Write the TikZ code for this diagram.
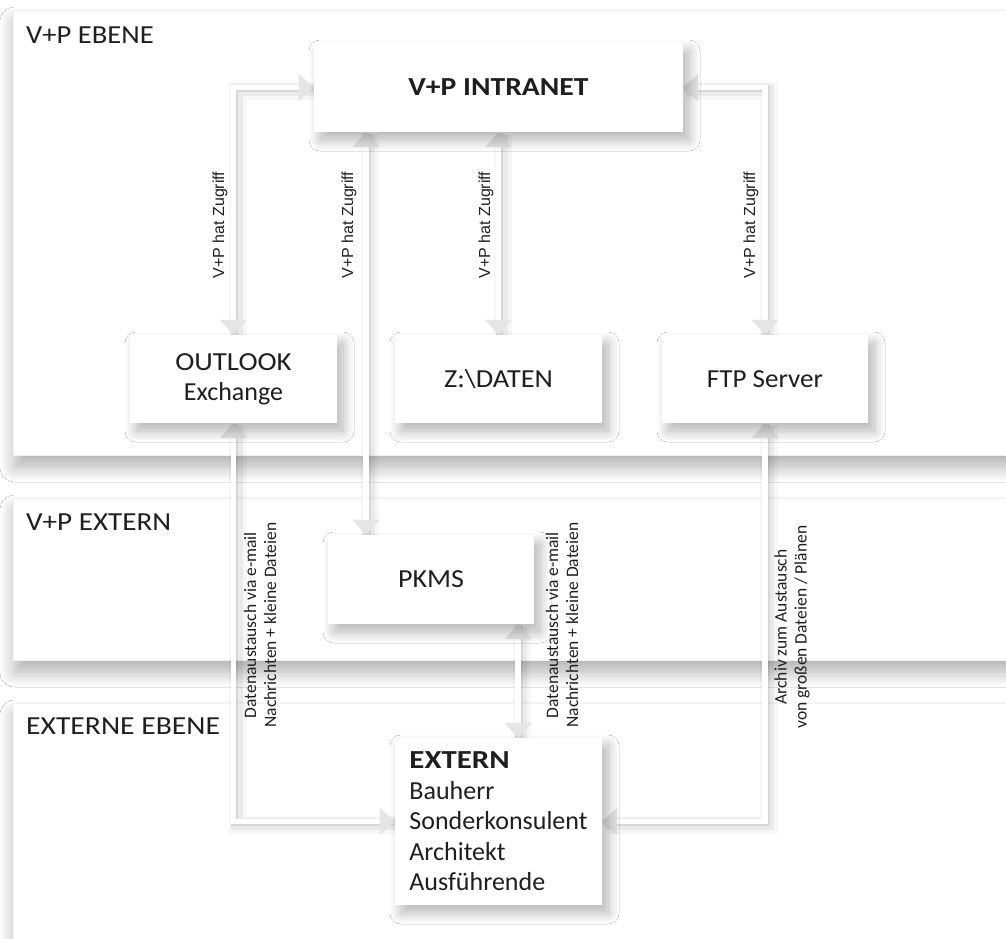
\documentclass[tikz,border=0pt]{standalone}
\usepackage{fontspec}
\setmainfont{Carlito}
\newfontfamily\labelfont{Liberation Sans}
\usetikzlibrary{arrows.meta,shadows.blur}
% slightly widened letters for words in capitals
\newcommand{\wide}[2][1.1]{{\addfontfeature{FakeStretch=#1}#2}}

\begin{document}
\begin{tikzpicture}[x=1pt,y=-1pt,
  wtip/.tip={Triangle[width=27pt,length=15pt,line width=0.1pt,color=black!10]},
  band/.style={fill=white, draw=black!5, line width=0.8pt, inner sep=0pt,
    blur shadow={shadow xshift=2pt, shadow yshift=-12pt, shadow blur radius=15pt,
      shadow blur steps=16, shadow opacity=32}},
  box/.style={fill=white, inner sep=0pt, minimum width=207pt, minimum height=88pt,
    align=center, text=black!88, font=\fontsize{26}{30}\selectfont,
    blur shadow={shadow xshift=6pt, shadow yshift=-8pt, shadow blur radius=11pt,
      shadow blur steps=16, shadow opacity=30}},
  bandlabel/.style={anchor=base west, inner sep=0pt, text=black!88,
    font=\fontsize{26}{30}\selectfont},
  link/.style={draw=white, line width=5.5pt, wtip-wtip,
    preaction={draw=black, draw opacity=0.03, line width=18pt, arrows=-,
      transform canvas={shift={(4pt,-3pt)}}},
    preaction={draw=black, draw opacity=0.05, line width=12pt, arrows=-,
      transform canvas={shift={(3pt,-2pt)}}},
    preaction={draw=black, draw opacity=0.08, line width=7.5pt, arrows=-,
      transform canvas={shift={(1.2pt,-1.2pt)}}}},
  hatlbl/.style={rotate=90, inner sep=0pt, text=black!88,
    font=\labelfont\fontsize{16}{19}\selectfont},
  infolbl/.style={rotate=90, inner sep=0pt, align=center, text=black!88,
    font=\fontsize{17.5}{20}\selectfont}]

\useasboundingbox (0,0) rectangle (1006,938);
\fill[white] (0,0) rectangle (1006,938);

% the three levels
\node[band, minimum width=1017pt, minimum height=445pt] (ebene) at (521.5,232.5) {};
\node[band, minimum width=1017pt, minimum height=162pt] (vpext) at (521.5,579) {};
\node[band, minimum width=1017pt, minimum height=257pt] (extebene) at (521.5,831.5) {};

\node[bandlabel] (lblebene) at (26,43) {\wide{V+P EBENE}};
\node[bandlabel] (lblvpext) at (26,530) {\wide[1.12]{V+P EXTERN}};
\node[bandlabel] (lblextebene) at (26,734) {\wide[1.14]{EXTERNE EBENE}};

% helper columns for the vertical links
\coordinate (pkx) at (366,0);
\coordinate (exx) at (518,0);

% positions of the systems (boxes drawn after the links)
\path (498.5,87.5) coordinate (pintranet)
      (233.5,379) coordinate (poutlook)
      (498.5,379) coordinate (pdaten)
      (765,379) coordinate (pftp)
      (431,579.5) coordinate (ppkms)
      (498.5,821.5) coordinate (pextern);

% outlines of the boxes, used as link ends
\node[minimum width=369pt, minimum height=89pt, inner sep=0pt] (intranet) at (pintranet) {};
\node[minimum width=207pt, minimum height=88pt, inner sep=0pt] (outlook) at (poutlook) {};
\node[minimum width=207pt, minimum height=88pt, inner sep=0pt] (daten) at (pdaten) {};
\node[minimum width=206pt, minimum height=88pt, inner sep=0pt] (ftp) at (pftp) {};
\node[minimum width=206pt, minimum height=89pt, inner sep=0pt] (pkms) at (ppkms) {};
\node[minimum width=207pt, minimum height=167pt, inner sep=0pt] (extern) at (pextern) {};

% links
\draw[link] (outlook.north) |- (intranet.west);
\draw[link] (intranet.east) -| (ftp.north);
\draw[link] (intranet.south -| pkx) -- (pkms.north -| pkx);
\draw[link] (intranet.south) -- (daten.north);
\draw[link] (outlook.south) |- (extern.west);
\draw[link] (ftp.south) |- (extern.east);
\draw[link] (pkms.south -| exx) -- (extern.north -| exx);

% boxes
\node[box, minimum width=369pt, minimum height=89pt, font=\fontsize{26}{30}\bfseries\selectfont]
  (intranetbox) at (pintranet) {\wide[1.14]{V+P INTRANET}};
\node[box] (outlookbox) at (poutlook) {\wide[1.11]{OUTLOOK}\\Exchange};
\node[box] (datenbox) at (pdaten) {\wide[1.09]{Z:\textbackslash DATEN}};
\node[box, minimum width=206pt] (ftpbox) at (pftp) {\wide[1.04]{FTP Server}};
\node[box, minimum width=206pt, minimum height=89pt] (pkmsbox) at (ppkms) {\wide[1.08]{PKMS}};
\node[box, minimum height=167pt, align=left, font=\fontsize{26}{30.5}\selectfont]
  (externbox) at (pextern) {\textbf{\wide[1.19]{EXTERN}}\\Bauherr\\Sonderkonsulent\\Architekt\\Ausführende};

% link labels
\node[hatlbl] (acc1) at (220,225) {V+P hat Zugriff};
\node[hatlbl] (acc2) at (349,225) {V+P hat Zugriff};
\node[hatlbl] (acc3) at (486,225) {V+P hat Zugriff};
\node[hatlbl] (acc4) at (751,225) {V+P hat Zugriff};

\node[infolbl] (mail1) at (260,625) {Datenaustausch via e-mail\\Nachrichten + kleine Dateien};
\node[infolbl] (mail2) at (562,625) {Datenaustausch via e-mail\\Nachrichten + kleine Dateien};
\node[infolbl] (archiv) at (792,627) {Archiv zum Austausch\\von großen Dateien / Plänen};

\end{tikzpicture}
\end{document}
